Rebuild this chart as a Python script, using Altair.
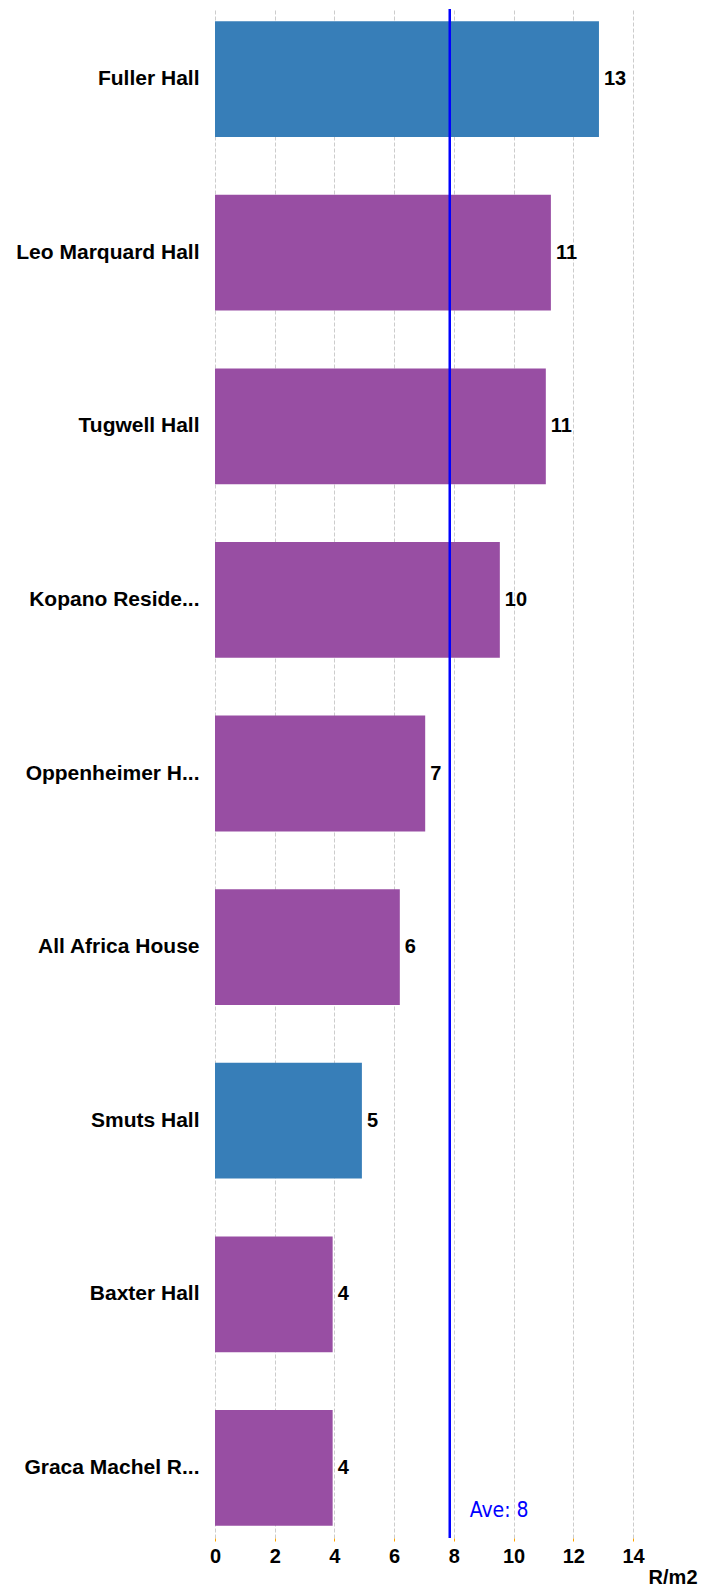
import altair as alt
import pandas as pd

# ---- data ----
names = ["Fuller Hall", "Leo Marquard Hall", "Tugwell Hall", "Kopano Reside...",
         "Oppenheimer H...", "All Africa House", "Smuts Hall", "Baxter Hall",
         "Graca Machel R..."]
values = [12.86, 11.25, 11.08, 9.54, 7.04, 6.19, 4.92, 3.94, 3.94]
groups = ["blue", "purple", "purple", "purple", "purple", "purple", "blue",
          "purple", "purple"]
x_ticks = [0, 2, 4, 6, 8, 10, 12, 14]

df = pd.DataFrame({"name": names, "value": values, "group": groups})

BOLD = "Liberation Sans"
color_scale = alt.Scale(domain=["blue", "purple"], range=["#377eb8", "#984ea3"])

x_enc = alt.X(
    "value:Q",
    scale=alt.Scale(domain=[0, 14], nice=False, zero=True),
    axis=alt.Axis(
        values=x_ticks, format="d", title="R/m2", labelFlush=False,
        labelFont=BOLD, labelFontWeight="bold", labelFontSize=20, labelColor="black",
        labelPadding=5, tickSize=3, tickColor="orange", tickWidth=1,
        domain=False, grid=True, gridColor="#cccccc", gridDash=[4, 2], gridWidth=1,
        titleFont=BOLD, titleFontWeight="bold", titleFontSize=20, titleColor="black",
        titleAnchor="start", titleAlign="right", titleBaseline="alphabetic",
        titleX=482, titleY=45,
    ),
)

y_enc = alt.Y(
    "name:N", sort=None,
    scale=alt.Scale(paddingInner=0.333, paddingOuter=0.07),
    axis=alt.Axis(
        title=None, labelFont=BOLD, labelFontWeight="bold", labelFontSize=21,
        labelColor="black", ticks=False, tickSize=0, domain=False, grid=False,
        labelPadding=16, labelLimit=0,
    ),
)

base = alt.Chart(df)

bars = base.mark_bar().encode(
    x=x_enc, y=y_enc,
    color=alt.Color("group:N", scale=color_scale, legend=None),
)

labels = base.mark_text(
    align="left", baseline="middle", dx=5, font=BOLD, fontWeight="bold",
    fontSize=20, color="black",
).encode(x="value:Q", y=alt.Y("name:N", sort=None), text=alt.Text("value:Q", format=".0f"))

avg_rule = base.transform_aggregate(avg="mean(value)").mark_rule(
    color="#0000ff", strokeWidth=2.5
).encode(x="avg:Q")

avg_text = base.transform_aggregate(avg="mean(value)").transform_calculate(
    lbl="'Ave: ' + format(datum.avg, '.0f')"
).mark_text(
    align="left", baseline="alphabetic", dx=20,
    font="DejaVu Sans Condensed, DejaVu Sans", fontSize=21, color="#0000ff",
).encode(x="avg:Q", y=alt.value(1508), text="lbl:N")

chart = alt.layer(bars, labels, avg_rule, avg_text).properties(
    width=418, height=1529,
    autosize=alt.AutoSizeParams(type="none"),
    padding={"left": 207, "top": 1, "right": 68, "bottom": 49},
).configure_view(stroke=None)

chart.save("out.html", embed_options={"renderer": "svg", "actions": False})
